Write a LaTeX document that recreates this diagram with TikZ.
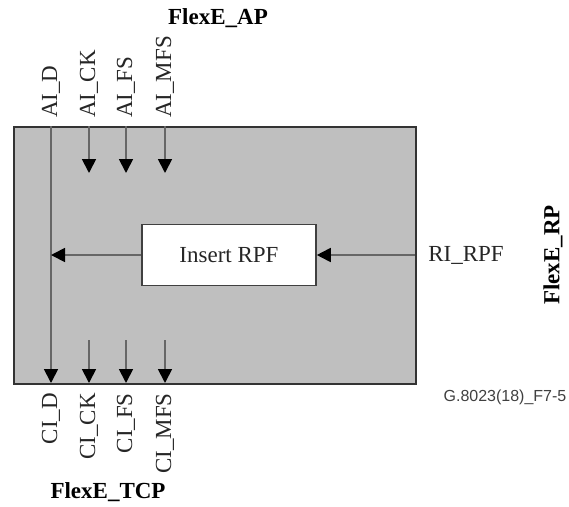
\documentclass[tikz,border=0pt]{standalone}
\usepackage{fontspec}
\setmainfont{Liberation Serif}
\setsansfont{Liberation Sans}
\usetikzlibrary{arrows.meta}
\begin{document}
\begin{tikzpicture}[x=1pt,y=-1pt,
  lbl/.style={font=\fontsize{23}{27}\selectfont, inner sep=0pt, text=black!85},
  blbl/.style={font=\fontsize{23}{27}\selectfont\bfseries, inner sep=0pt},
  sig/.style={draw=black!60, line width=1.8pt, -{Triangle[length=14pt,width=14pt,color=black]}},
  plain/.style={draw=black!60, line width=1.8pt}]
\useasboundingbox (0,0) rectangle (569,506);
% main block
\node[draw=black!80, line width=1.8pt, fill=black!25, minimum width=402pt, minimum height=257pt, inner sep=0pt, anchor=north west] (blk) at (13,126) {};
% insert box
\node[draw=black!75, line width=1.6pt, fill=white, minimum width=174pt, minimum height=61pt, inner sep=0pt, lbl] (ins) at (229,255) {Insert RPF};
% coordinates
\coordinate (dtop) at (51,126);
\coordinate (dbot) at (51,383);
\coordinate (dmid) at (51,255);
\coordinate (rin) at (415,255);
\foreach \n/\x in {ck/89, fs/126, mfs/165} {
  \coordinate (a\n) at (\x,126);
  \coordinate (a\n e) at (\x,173);
  \coordinate (c\n s) at (\x,340);
  \coordinate (c\n) at (\x,383);
}
% connectors
\draw[sig] (dtop) -- (dbot);
\draw[sig] (ins.west) -- (dmid);
\draw[sig] (rin) -- (ins.east);
\foreach \n in {ck, fs, mfs} {
  \draw[sig] (a\n) -- (a\n e);
  \draw[sig] (c\n s) -- (c\n);
}
% labels top
\node[lbl, rotate=90, anchor=west] (lad) at (51,118) {AI\_D};
\node[lbl, rotate=90, anchor=west] (lack) at (89,118) {AI\_CK};
\node[lbl, rotate=90, anchor=west] (lafs) at (126,118) {AI\_FS};
\node[lbl, rotate=90, anchor=west] (lamfs) at (165,118) {AI\_MFS};
% labels bottom
\node[lbl, rotate=90, anchor=east] (lcd) at (51,393) {CI\_D};
\node[lbl, rotate=90, anchor=east] (lcck) at (89,393) {CI\_CK};
\node[lbl, rotate=90, anchor=east] (lcfs) at (126,393) {CI\_FS};
\node[lbl, rotate=90, anchor=east] (lcmfs) at (165,393) {CI\_MFS};
% side labels
\node[lbl] (rirpf) at (466,255) {RI\_RPF};
\node[blbl, rotate=90] (rp) at (553,255) {FlexE\_RP};
\node[blbl] (ap) at (218,18) {FlexE\_AP};
\node[blbl] (tcp) at (108,492) {FlexE\_TCP};
\node[font=\sffamily\fontsize{16}{19}\selectfont, text=black!75, inner sep=0pt] (fig) at (505,397) {G.8023(18)\_F7-5};
\end{tikzpicture}
\end{document}
